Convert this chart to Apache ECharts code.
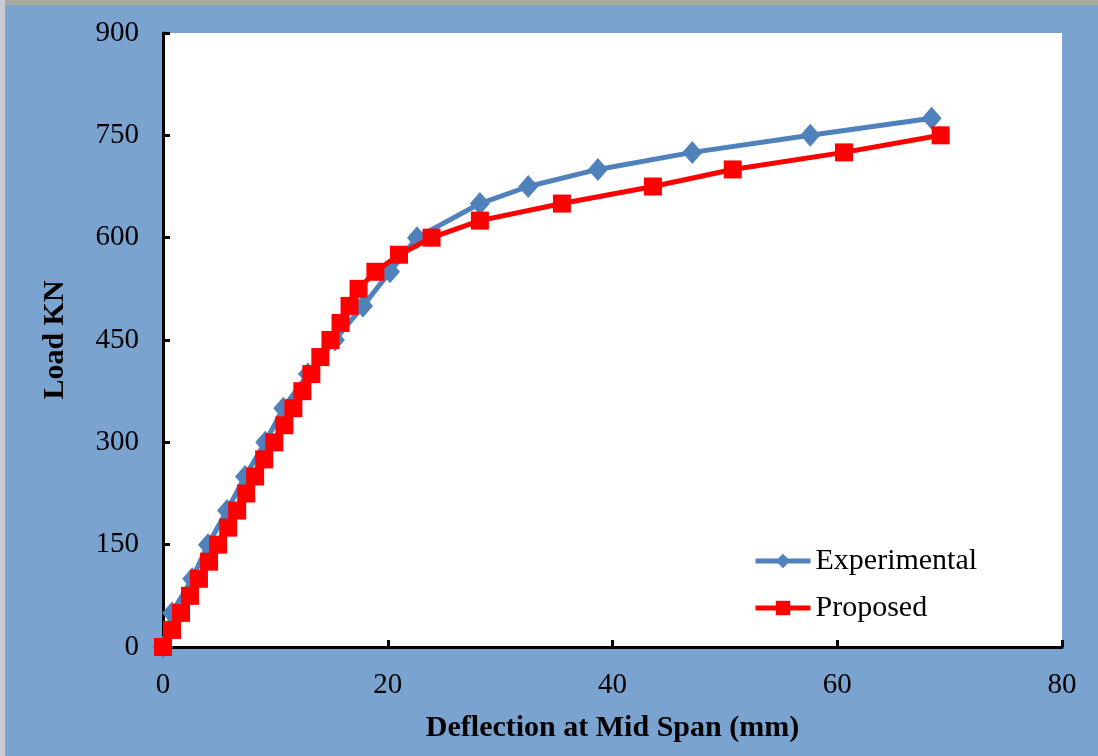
<!DOCTYPE html>
<html>
<head>
<meta charset="utf-8">
<script src="https://cdn.jsdelivr.net/npm/echarts@6/dist/echarts.min.js"></script>
<style>
html,body{margin:0;padding:0;background:#7BA3CF;}
#chart{width:1098px;height:756px;}
</style>
</head>
<body>
<div id="chart"></div>
<script>
var seriesNames = ['Experimental', 'Proposed'];
var expDeflection = [0, 0.8, 2.6, 4.0, 5.7, 7.3, 9.1, 10.7, 12.9, 15.3, 17.8, 20.2, 22.6, 28.2, 32.5, 38.7, 47.1, 57.6, 68.4];
var expLoad       = [0, 50, 100, 150, 200, 250, 300, 350, 400, 450, 500, 550, 600, 650, 675, 700, 725, 750, 775];
var propDeflection = [0, 0.8, 1.6, 2.4, 3.2, 4.1, 4.9, 5.8, 6.6, 7.4, 8.2, 9.0, 9.9, 10.8, 11.6, 12.4, 13.2, 14.0, 14.9, 15.8, 16.6, 17.4, 18.9, 21.0, 23.9, 28.2, 35.5, 43.6, 50.7, 60.6, 69.2];
var propLoad       = [0, 25, 50, 75, 100, 125, 150, 175, 200, 225, 250, 275, 300, 325, 350, 375, 400, 425, 450, 475, 500, 525, 550, 575, 600, 625, 650, 675, 700, 725, 750];
var xTitle = 'Deflection at Mid Span (mm)';
var yTitle = 'Load KN';

function pairs(xs, ys){ return xs.map(function(x,i){ return [x, ys[i]]; }); }

var chart = echarts.init(document.getElementById('chart'));
var serif = '"Liberation Serif", "DejaVu Serif", serif';
chart.setOption({
  backgroundColor: '#7BA3CF',
  animation: false,
  graphic: [
    {type:'rect', left:0, top:0, shape:{width:1098, height:5}, style:{fill:'#A9A9A4'}, z:100},
    {type:'rect', left:0, top:0, shape:{width:5, height:756}, style:{fill:'#C8CCD2'}, z:100}
  ],
  grid: {left:163, right:36, top:33, bottom:109, show:true, backgroundColor:'#ffffff', borderWidth:0},
  legend: {
    orient:'vertical', left:753, top:546, itemGap:17, padding:0,
    itemWidth:55, itemHeight:18,
    lineStyle:{width:5},
    textStyle:{fontFamily:serif, fontSize:30, color:'#000'},
    data: seriesNames
  },
  xAxis: {
    type:'value', min:0, max:80, interval:20,
    name:xTitle, nameLocation:'middle', nameGap:66,
    nameTextStyle:{fontFamily:serif, fontSize:30, fontWeight:'bold', color:'#000'},
    axisLine:{show:true, lineStyle:{color:'#000', width:3}},
    axisTick:{show:true, inside:true, length:7, lineStyle:{color:'#000', width:3}},
    axisLabel:{fontFamily:serif, fontSize:29, color:'#000', margin:24},
    splitLine:{show:false}
  },
  yAxis: {
    type:'value', min:0, max:900, interval:150,
    name:yTitle, nameLocation:'middle', nameGap:93, nameRotate:90,
    nameTextStyle:{fontFamily:serif, fontSize:30, fontWeight:'bold', color:'#000'},
    axisLine:{show:true, lineStyle:{color:'#000', width:3}},
    axisTick:{show:true, inside:true, length:7, lineStyle:{color:'#000', width:3}},
    axisLabel:{fontFamily:serif, fontSize:29, color:'#000', margin:24},
    splitLine:{show:false}
  },
  series: [
    {
      name:seriesNames[0], type:'line', data:pairs(expDeflection, expLoad),
      symbol:'diamond', symbolSize:[20,23],
      lineStyle:{color:'#4F81BD', width:5},
      itemStyle:{color:'#4F81BD'}, z:2
    },
    {
      name:seriesNames[1], type:'line', data:pairs(propDeflection, propLoad),
      symbol:'rect', symbolSize:18,
      lineStyle:{color:'#FF0000', width:5},
      itemStyle:{color:'#FF0000'}, z:3
    }
  ]
});
</script>
</body>
</html>
